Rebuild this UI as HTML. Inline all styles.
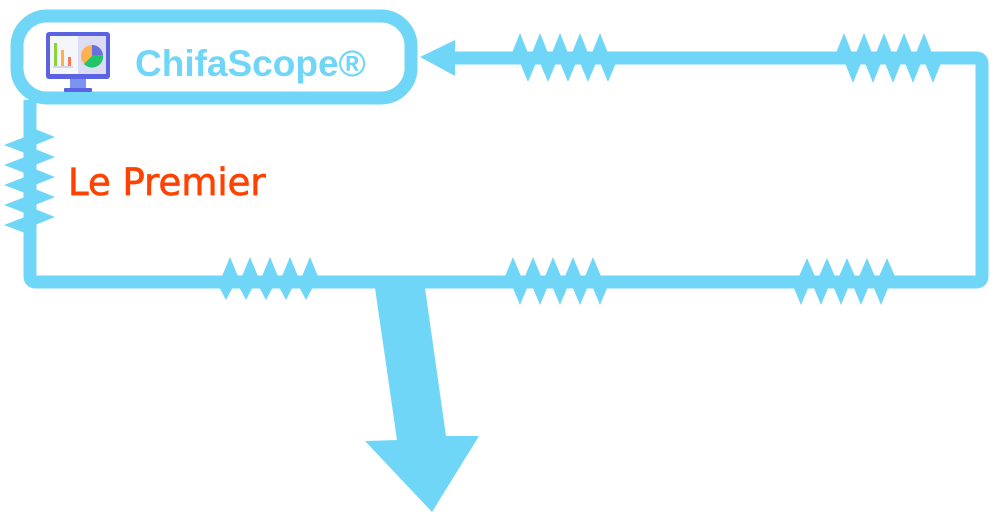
<!DOCTYPE html>
<html><head><meta charset="utf-8"><style>
html,body{margin:0;padding:0;background:#fff;width:1000px;height:524px;overflow:hidden}
svg{display:block}
</style></head><body>
<svg width="1000" height="524" viewBox="0 0 1000 524" xmlns="http://www.w3.org/2000/svg">
<g fill="#70d6f7" stroke="none">
<path d="M455 58 H976 Q982 58 982 64 V276 Q982 282 976 282 H36 Q30 282 30 276 V100" fill="none" stroke="#70d6f7" stroke-width="13"/>
<polygon points="420,57 455,40 455,76"/>
<path d="M510 58L520 33L530 58ZM530 58L540 33L550 58ZM550 58L560 33L570 58ZM570 58L580 33L590 58ZM590 58L600 33L610 58Z
M518 58L528 82L538 58ZM538 58L548 82L558 58ZM558 58L568 82L578 58ZM578 58L588 82L598 58ZM598 58L608 82L618 58Z"/>
<path d="M834 58L844 33L854 58ZM854 58L864 33L874 58ZM874 58L884 33L894 58ZM894 58L904 33L914 58ZM914 58L924 33L934 58Z
M843 58L853 83L863 58ZM863 58L873 83L883 58ZM883 58L893 83L903 58ZM903 58L913 83L923 58ZM923 58L933 83L943 58Z"/>
<path d="M220 281L230 257L240 281ZM240 281L250 257L260 281ZM260 281L270 257L280 281ZM280 281L290 257L300 281ZM300 281L310 257L320 281Z
M216 281L226 300L236 281ZM236 281L246 300L256 281ZM256 281L266 300L276 281ZM276 281L286 300L296 281ZM296 281L306 300L316 281Z"/>
<path d="M503 281L513 257L523 281ZM523 281L533 257L543 281ZM543 281L553 257L563 281ZM563 281L573 257L583 281ZM583 281L593 257L603 281Z
M510 281L520 305L530 281ZM530 281L540 305L550 281ZM550 281L560 305L570 281ZM570 281L580 305L590 281ZM590 281L600 305L610 281Z"/>
<path d="M797 281L807 258L817 281ZM817 281L827 258L837 281ZM837 281L847 258L857 281ZM857 281L867 258L877 281ZM877 281L887 258L897 281Z
M791 281L801 305L811 281ZM811 281L821 305L831 281ZM831 281L841 305L851 281ZM851 281L861 305L871 281ZM871 281L881 305L891 281Z"/>
<path d="M30 127L55 137L30 147ZM30 147L55 157L30 167ZM30 167L55 177L30 187ZM30 187L55 197L30 207ZM30 207L55 217L30 227Z
M30 135L4 145L30 155ZM30 155L4 165L30 175ZM30 175L4 185L30 195ZM30 195L4 205L30 215ZM30 215L4 225L30 235Z"/>
<polygon points="375,288 425,288 446,436 479,436 432,512 365,441 397,440"/>
</g>
<rect x="17" y="16" width="394" height="82" rx="30" ry="30" fill="#fff" stroke="#70d6f7" stroke-width="13"/>
<g>
<rect x="46" y="32" width="64" height="47" rx="3" fill="#5b63e0"/>
<rect x="50" y="36" width="28" height="38" fill="#f4f6fa"/>
<rect x="78" y="36" width="28" height="38" fill="#dcdcf4"/>
<rect x="54" y="43" width="3" height="23" fill="#8cd23a"/>
<rect x="61" y="50" width="3" height="16" fill="#ffb04a"/>
<rect x="68" y="57" width="3" height="9" fill="#ff7a50"/>
<rect x="53" y="66" width="20" height="2" fill="#d6d6ee"/>
<circle cx="92" cy="56" r="11" fill="#ffb050"/>
<path d="M92 56 L92 45 A11 11 0 0 1 103 55 Z" fill="#6a6fe0"/>
<path d="M92 56 L103 55 A11 11 0 0 1 84 64 Z" fill="#22c46a"/>
<rect x="70" y="79" width="16" height="9" fill="#7d93f0"/>
<rect x="64" y="88" width="28" height="4" rx="1" fill="#5b63e0"/>
</g>
<text x="135" y="76" font-family="Liberation Sans, DejaVu Sans, sans-serif" font-weight="bold" font-size="37" fill="#70d6f7">ChifaScope®</text>
<text x="68" y="195" font-family="DejaVu Sans, Liberation Sans, sans-serif" font-size="37" fill="#ff4200" stroke="#ff4200" stroke-width="0.7">Le Premier</text>
</svg>
</body></html>
